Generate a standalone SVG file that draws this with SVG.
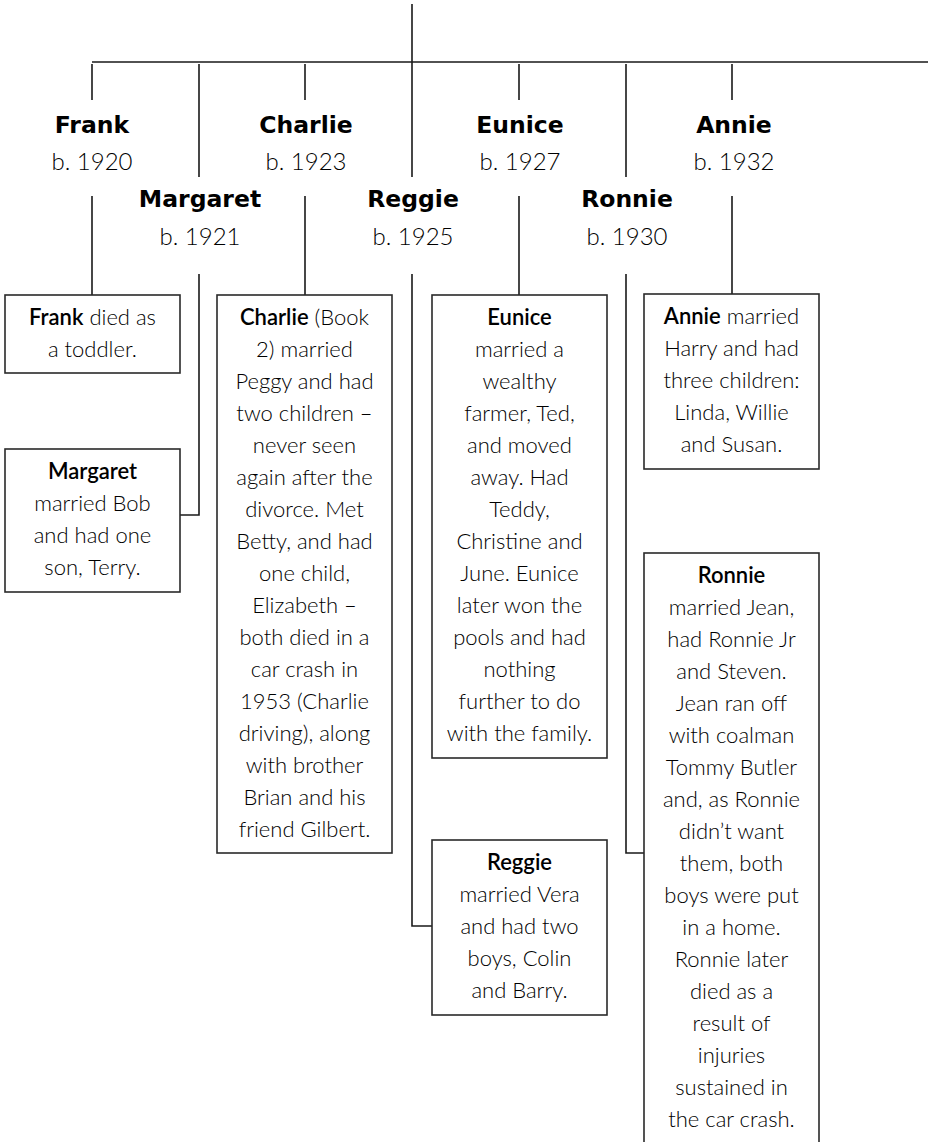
<svg xmlns="http://www.w3.org/2000/svg" width="933" height="1142" viewBox="0 0 933 1142">
<style>
.ln{stroke:#1a1a1a;stroke-width:1.6;fill:none}
.box{fill:#fff;stroke:#2a2a2a;stroke-width:1.6}
.nm{font-family:"DejaVu Sans",sans-serif;font-weight:bold;font-size:23.5px;fill:#000;text-anchor:middle}
.yr{font-family:Lato,"Liberation Sans",sans-serif;font-weight:300;font-size:24px;fill:#000;text-anchor:middle}
.tx{font-family:Lato,"Liberation Sans",sans-serif;font-weight:300;font-size:22px;fill:#000;text-anchor:middle}
.b{font-weight:600;fill:#000}
</style>
<g id="connectors">
<path class="ln" d="M412 4V177M92 62H928"/>
<path class="ln" d="M92 64V100M92 196V295"/>
<path class="ln" d="M305 64V100M305 196V295"/>
<path class="ln" d="M519 64V100M519 196V295"/>
<path class="ln" d="M732 64V100M732 196V294"/>
<path class="ln" d="M199 64V177M199 274V515H180"/>
<path class="ln" d="M412 274V926H432"/>
<path class="ln" d="M626 64V177M626 274V853H644"/>
</g>
<g id="names">
<text class="nm" x="92" y="133">Frank</text><text class="yr" x="92" y="170">b. 1920</text>
<text class="nm" x="306" y="133">Charlie</text><text class="yr" x="306" y="170">b. 1923</text>
<text class="nm" x="520" y="133">Eunice</text><text class="yr" x="520" y="170">b. 1927</text>
<text class="nm" x="734" y="133">Annie</text><text class="yr" x="734" y="170">b. 1932</text>
<text class="nm" x="200" y="207">Margaret</text><text class="yr" x="200" y="245">b. 1921</text>
<text class="nm" x="413" y="207">Reggie</text><text class="yr" x="413" y="245">b. 1925</text>
<text class="nm" x="627" y="207">Ronnie</text><text class="yr" x="627" y="245">b. 1930</text>
</g>
<g id="frank">
<rect class="box" x="5" y="295" width="175" height="78"/>
<text class="tx" x="92.5" y="325"><tspan class="b">Frank</tspan> died as<tspan x="92.5" dy="32">a toddler.</tspan></text>
</g>
<g id="margaret">
<rect class="box" x="5" y="449" width="175" height="143"/>
<text class="tx" x="92.5" y="479"><tspan class="b">Margaret</tspan><tspan x="92.5" dy="32">married Bob</tspan><tspan x="92.5" dy="32">and had one</tspan><tspan x="92.5" dy="32">son, Terry.</tspan></text>
</g>
<g id="charlie">
<rect class="box" x="217" y="295" width="175" height="558"/>
<text class="tx" x="304.5" y="325"><tspan class="b">Charlie</tspan> (Book<tspan x="304.5" dy="32">2) married</tspan><tspan x="304.5" dy="32">Peggy and had</tspan><tspan x="304.5" dy="32">two children –</tspan><tspan x="304.5" dy="32">never seen</tspan><tspan x="304.5" dy="32">again after the</tspan><tspan x="304.5" dy="32">divorce. Met</tspan><tspan x="304.5" dy="32">Betty, and had</tspan><tspan x="304.5" dy="32">one child,</tspan><tspan x="304.5" dy="32">Elizabeth –</tspan><tspan x="304.5" dy="32">both died in a</tspan><tspan x="304.5" dy="32">car crash in</tspan><tspan x="304.5" dy="32">1953 (Charlie</tspan><tspan x="304.5" dy="32">driving), along</tspan><tspan x="304.5" dy="32">with brother</tspan><tspan x="304.5" dy="32">Brian and his</tspan><tspan x="304.5" dy="32">friend Gilbert.</tspan></text>
</g>
<g id="eunice">
<rect class="box" x="432" y="295" width="175" height="463"/>
<text class="tx" x="519.5" y="325"><tspan class="b">Eunice</tspan><tspan x="519.5" dy="32">married a</tspan><tspan x="519.5" dy="32">wealthy</tspan><tspan x="519.5" dy="32">farmer, Ted,</tspan><tspan x="519.5" dy="32">and moved</tspan><tspan x="519.5" dy="32">away. Had</tspan><tspan x="519.5" dy="32">Teddy,</tspan><tspan x="519.5" dy="32">Christine and</tspan><tspan x="519.5" dy="32">June. Eunice</tspan><tspan x="519.5" dy="32">later won the</tspan><tspan x="519.5" dy="32">pools and had</tspan><tspan x="519.5" dy="32">nothing</tspan><tspan x="519.5" dy="32">further to do</tspan><tspan x="519.5" dy="32">with the family.</tspan></text>
</g>
<g id="reggie">
<rect class="box" x="432" y="840" width="175" height="175"/>
<text class="tx" x="519.5" y="870"><tspan class="b">Reggie</tspan><tspan x="519.5" dy="32">married Vera</tspan><tspan x="519.5" dy="32">and had two</tspan><tspan x="519.5" dy="32">boys, Colin</tspan><tspan x="519.5" dy="32">and Barry.</tspan></text>
</g>
<g id="annie">
<rect class="box" x="644" y="294" width="175" height="175"/>
<text class="tx" x="731.5" y="324"><tspan class="b">Annie</tspan> married<tspan x="731.5" dy="32">Harry and had</tspan><tspan x="731.5" dy="32">three children:</tspan><tspan x="731.5" dy="32">Linda, Willie</tspan><tspan x="731.5" dy="32">and Susan.</tspan></text>
</g>
<g id="ronnie">
<rect class="box" x="644" y="553" width="175" height="600"/>
<text class="tx" x="731.5" y="583"><tspan class="b">Ronnie</tspan><tspan x="731.5" dy="32">married Jean,</tspan><tspan x="731.5" dy="32">had Ronnie Jr</tspan><tspan x="731.5" dy="32">and Steven.</tspan><tspan x="731.5" dy="32">Jean ran off</tspan><tspan x="731.5" dy="32">with coalman</tspan><tspan x="731.5" dy="32">Tommy Butler</tspan><tspan x="731.5" dy="32">and, as Ronnie</tspan><tspan x="731.5" dy="32">didn’t want</tspan><tspan x="731.5" dy="32">them, both</tspan><tspan x="731.5" dy="32">boys were put</tspan><tspan x="731.5" dy="32">in a home.</tspan><tspan x="731.5" dy="32">Ronnie later</tspan><tspan x="731.5" dy="32">died as a</tspan><tspan x="731.5" dy="32">result of</tspan><tspan x="731.5" dy="32">injuries</tspan><tspan x="731.5" dy="32">sustained in</tspan><tspan x="731.5" dy="32">the car crash.</tspan></text>
</g>
</svg>
